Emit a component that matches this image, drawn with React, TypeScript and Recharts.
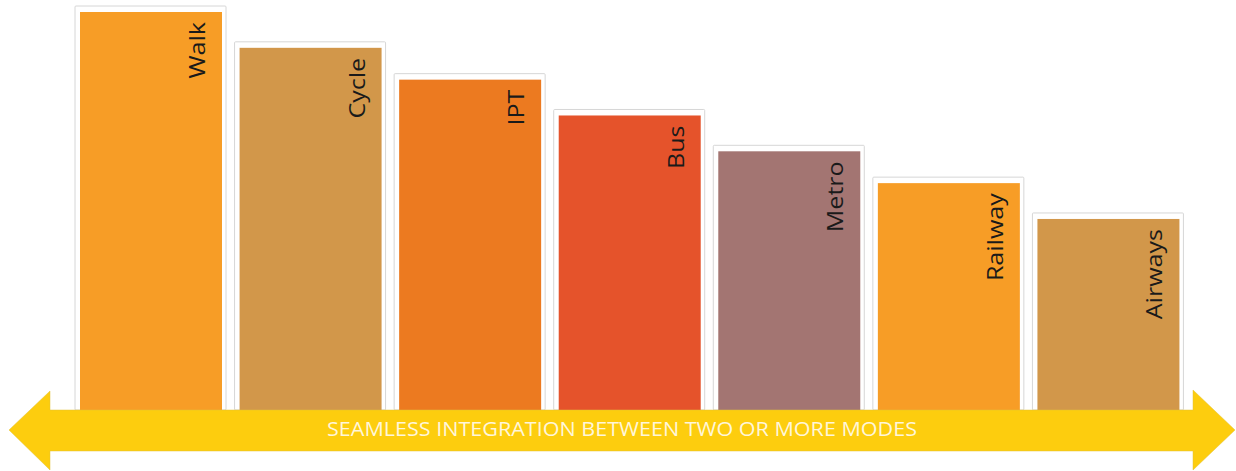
import { BarChart, Bar, XAxis, YAxis, LabelList } from 'recharts'

const font = '"Open Sans", Lato, sans-serif'

const modes = ['Walk', 'Cycle', 'IPT', 'Bus', 'Metro', 'Railway', 'Airways']
const levels = [100, 91, 83, 74, 65, 57, 48]
const colors = ['#F79D26', '#D2974A', '#EC7A20', '#E5532B', '#A37572', '#F79D26', '#D2974A']
const banner = 'SEAMLESS INTEGRATION BETWEEN TWO OR MORE MODES'

const data = modes.map((mode, i) => ({ mode, level: levels[i], color: colors[i] }))

const FramedBar = (props: any) => {
  const { x, y, width, height, payload } = props
  return (
    <g>
      <rect x={x - 5} y={y - 6} width={width + 9} height={height + 6} fill="#fff" stroke="#d6d6d6" strokeWidth={1} rx={1} />
      <rect x={x} y={y} width={width} height={height} fill={payload.color} />
    </g>
  )
}

const ModeLabel = (props: any) => {
  const { x, y, width, value } = props
  const bx = x + width - 17
  const by = y + 10
  return (
    <text
      transform={`translate(${bx},${by}) rotate(-90) scale(1.14,1)`}
      textAnchor="end"
      fontFamily={font}
      fontSize={22}
      fill="#1a1a1a"
    >
      {value}
    </text>
  )
}

const Banner = () => (
  <svg width={1236} height={471} style={{ position: 'absolute', left: 0, top: 0 }}>
    <path
      d="M9,430 L50,391 L50,410 L1193,410 L1193,390 L1235,430 L1193,470 L1193,451 L50,451 L50,470 Z"
      fill="#FDCD0E"
      stroke="#e3c23a"
      strokeWidth={0.5}
    />
    <text
      x={622}
      y={436}
      textAnchor="middle"
      fontFamily={font}
      fontSize={20}
      fill="#FFF6DA"
      textLength={590}
      lengthAdjust="spacingAndGlyphs"
    >
      {banner}
    </text>
  </svg>
)

export default function App() {
  return (
    <div style={{ position: 'fixed', left: 0, top: 0, width: 1236, height: 471, background: '#fff' }}>
      <BarChart width={1236} height={471} data={data} margin={{ top: 12, right: 48, left: 71, bottom: 61 }} barSize={142}>
        <XAxis dataKey="mode" hide />
        <YAxis domain={[0, 100]} hide />
        <Bar dataKey="level" shape={<FramedBar />} isAnimationActive={false}>
          <LabelList dataKey="mode" content={<ModeLabel />} />
        </Bar>
      </BarChart>
      <Banner />
    </div>
  )
}
